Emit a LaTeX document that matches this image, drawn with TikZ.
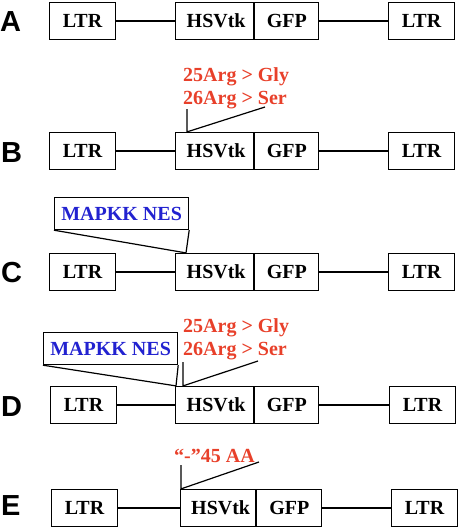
\documentclass[tikz,border=0pt]{standalone}
\usepackage{fontspec}
\setmainfont{Liberation Serif}
\newfontfamily\letterfont{Liberation Sans}
\usetikzlibrary{positioning}
\definecolor{MutRed}{HTML}{E8402A}
\definecolor{NesBlue}{HTML}{2222D0}
\tikzset{
  ltr/.style={draw,line width=1.2pt,minimum width=66pt,minimum height=37pt,inner sep=0pt,font=\fontsize{20}{23}\selectfont\bfseries},
  tk/.style={ltr,minimum width=78pt,text width=62pt,align=right},
  gfp/.style={ltr,minimum width=64pt},
  nes/.style={draw,line width=1.2pt,minimum width=134pt,minimum height=32pt,inner sep=0pt,text=NesBlue,font=\fontsize{20}{23}\selectfont\bfseries},
  mut/.style={inner sep=0pt,align=left,text=MutRed,font=\fontsize{20}{23}\selectfont\bfseries},
  lett/.style={inner sep=0pt,font=\letterfont\fontsize{29}{30}\selectfont\bfseries},
  link/.style={line width=1.2pt},
}
\begin{document}
\begin{tikzpicture}[x=1pt,y=-1pt]
          \useasboundingbox (0,0) rectangle (458,528);
          % A
          \node[lett,anchor=west] (labA) at (0,22) {A};
          \node[ltr,anchor=west] (ltrLA) at (49,21) {LTR};
          \node[tk,anchor=west] (tkA) at (175,21) {HSVtk};
          \node[gfp,right=0pt of tkA] (gfpA) {GFP};
          \node[ltr,anchor=west] (ltrRA) at (388,21) {LTR};
          \draw[link] (ltrLA) -- (tkA);
          \draw[link] (gfpA) -- (ltrRA);
          % B
          \node[lett,anchor=west] (labB) at (1,153) {B};
          \node[ltr,anchor=west] (ltrLB) at (49,151) {LTR};
          \node[tk,anchor=west] (tkB) at (175,151) {HSVtk};
          \node[gfp,right=0pt of tkB] (gfpB) {GFP};
          \node[ltr,anchor=west] (ltrRB) at (388,151) {LTR};
          \draw[link] (ltrLB) -- (tkB);
          \draw[link] (gfpB) -- (ltrRB);
          \node[mut,anchor=north west] (mutTxtB) at (183,67) {25Arg > Gly\\26Arg > Ser};
          \coordinate (mutB) at ([xshift=12pt]tkB.north west);
          \coordinate (mutBtop) at (187,109);
          \coordinate (mutBend) at (265,107);
          \draw[link] (mutBtop) -- (mutB) -- (mutBend);
          % C
          \node[lett,anchor=west] (labC) at (1,273) {C};
          \node[ltr,anchor=west] (ltrLC) at (49,272) {LTR};
          \node[tk,anchor=west] (tkC) at (175,272) {HSVtk};
          \node[gfp,right=0pt of tkC] (gfpC) {GFP};
          \node[ltr,anchor=west] (ltrRC) at (388,272) {LTR};
          \draw[link] (ltrLC) -- (tkC);
          \draw[link] (gfpC) -- (ltrRC);
          \node[nes,anchor=north west] (nesC) at (54,197) {MAPKK NES};
          \coordinate (nesCpt) at ([xshift=11pt]tkC.north west);
          \draw[link] (nesC.south west) -- (nesCpt) -- (nesC.south east);
          % D
          \node[lett,anchor=west] (labD) at (1,407) {D};
          \node[ltr,anchor=west] (ltrLD) at (50,405) {LTR};
          \node[tk,anchor=west] (tkD) at (175,405) {HSVtk};
          \node[gfp,right=0pt of tkD] (gfpD) {GFP};
          \node[ltr,anchor=west] (ltrRD) at (389,405) {LTR};
          \draw[link] (ltrLD) -- (tkD);
          \draw[link] (gfpD) -- (ltrRD);
          \node[nes,anchor=north west] (nesD) at (43,332) {MAPKK NES};
          \coordinate (nesDpt) at ([xshift=1pt]tkD.north west);
          \draw[link] (nesD.south west) -- (nesDpt) -- (nesD.south east);
          \node[mut,anchor=north west] (mutTxtD) at (183,318) {25Arg > Gly\\26Arg > Ser};
          \coordinate (mutD) at ([xshift=8pt]tkD.north west);
          \coordinate (mutDtop) at (183,362);
          \coordinate (mutDend) at (258,361);
          \draw[link] (mutDtop) -- (mutD) -- (mutDend);
          % E
          \node[lett,anchor=west] (labE) at (1,506) {E};
          \node[ltr,anchor=west] (ltrLE) at (51,508) {LTR};
          \node[tk,anchor=west,minimum width=75pt,text width=64pt] (tkE) at (180,508) {HSVtk};
          \node[gfp,right=0pt of tkE,minimum width=65pt] (gfpE) {GFP};
          \node[ltr,anchor=west] (ltrRE) at (391,508) {LTR};
          \draw[link] (ltrLE) -- (tkE);
          \draw[link] (gfpE) -- (ltrRE);
          \node[mut,anchor=north west] (mutTxtE) at (174,449) {“-”45 AA};
          \coordinate (mutE) at ([xshift=1pt]tkE.north west);
          \coordinate (mutEtop) at (181,465);
          \coordinate (mutEend) at (259,462);
          \draw[link] (mutEtop) -- (mutE) -- (mutEend);
        \end{tikzpicture}
\end{document}
